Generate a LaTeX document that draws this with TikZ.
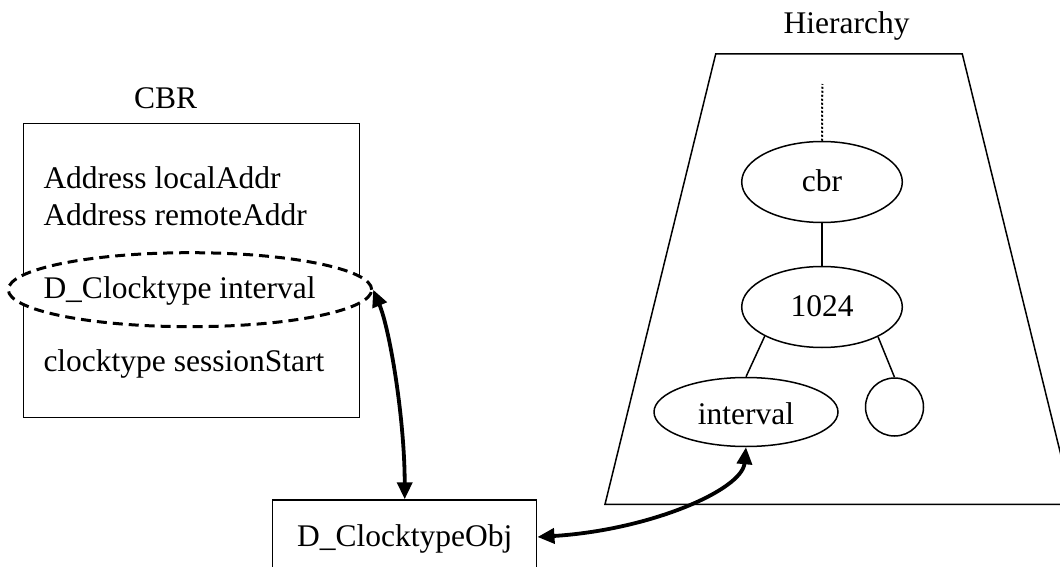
\documentclass[tikz,border=0pt]{standalone}
\usepackage{fontspec}
\setmainfont{Liberation Serif}
\usetikzlibrary{arrows.meta,shapes.geometric}
\begin{document}
\begin{tikzpicture}[x=1pt,y=-1pt,
  txt/.style={font=\fontsize{31.5}{37}\selectfont, inner sep=0pt},
  thinline/.style={line width=1.5pt},
  member/.style={txt, anchor=base west},
  treenode/.style={ellipse, draw, thinline, inner sep=0pt, txt,
    text height=22pt, text depth=4pt},
  biarrow/.style={line width=3.8pt,
    {Triangle[length=17pt,width=15pt]}-{Triangle[length=17pt,width=15pt]}},
]
\clip (0,0) rectangle (1060,567);

% ---- CBR class box ----
\node[txt, anchor=base] (cbrtitle) at (165.7,109) {CBR};
\node[draw, thinline, minimum width=336pt, minimum height=294pt,
      inner sep=0pt] (cbrbox) at (191.3,270.3) {};
\node[member] (f1) at (43.3,188.3) {Address localAddr};
\node[member] (f2) at (43.3,225) {Address remoteAddr};
\node[ellipse, draw, fill=white, line width=3pt,
      dash pattern=on 10pt off 6pt, inner sep=0pt,
      minimum width=363.4pt, minimum height=74pt] (civ) at (190,289.7) {};
\node[member] (f3) at (43.3,298.3) {D\_Clocktype interval};
\node[member] (f4) at (43.3,371.7) {clocktype sessionStart};

% ---- object box ----
\node[draw, thinline, txt, minimum width=264pt, minimum height=74pt,
      text height=22pt, text depth=2.6pt] (obj) at (404.7,537) {D\_ClocktypeObj};

% ---- hierarchy ----
\node[txt, anchor=base] (htitle) at (846.7,33.3) {Hierarchy};
\draw[thinline] (715.7,54) -- (962.3,54) -- (1073,504.3) -- (605,504.3) -- cycle;

\node[treenode, minimum width=160.6pt, minimum height=81pt] (cbr) at (822,182) {cbr};
\node[treenode, minimum width=160.6pt, minimum height=81pt] (n1024) at (822,307) {1024};
\node[treenode, minimum width=184pt, minimum height=69pt,
      text height=28pt] (iv) at (746,412) {interval};
\node[circle, draw, thinline, minimum size=58pt, inner sep=0pt] (circ) at (894.5,407) {};
\coordinate (dtop) at (822.3,84);

\draw[line width=2pt, dash pattern=on 2pt off 2pt] (cbr.north) -- (dtop);
\draw[thinline] (cbr.south) -- (n1024.north);
\draw[thinline] (n1024.207) -- (iv.north);
\draw[thinline] (n1024.332) -- (circ.north);

% ---- references ----
\draw[biarrow] (civ.east) .. controls (390,330) and (404.7,420) .. (obj.north);
\draw[biarrow] (obj.east) .. controls (650,530) and (742,490) .. (iv.south);
\end{tikzpicture}
\end{document}
